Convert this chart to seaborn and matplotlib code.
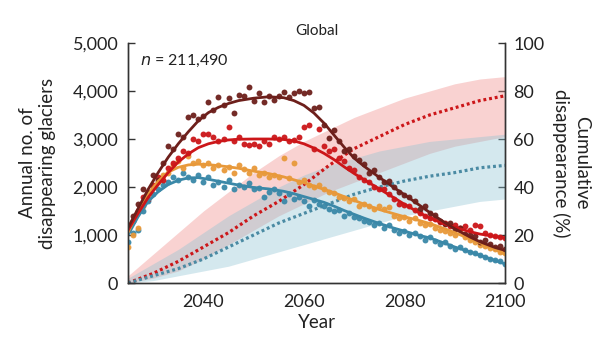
import numpy as np
import pandas as pd
import matplotlib
matplotlib.use("Agg")
import matplotlib.pyplot as plt
import seaborn as sns

years = list(range(2025, 2101))

brown_pts = [1150, 1400, 1650, 1950, 1900, 2250, 2150, 2500, 2850, 2800,
             3100, 3050, 3450, 3500, 3420, 3480, 3780, 3600, 3880, 3700,
             3850, 3550, 3920, 3900, 4080, 3800, 3950, 3780, 3900, 3820,
             3900, 3980, 3870, 3950, 4000, 3960, 3980, 3650, 3670, 3300,
             3020, 3180, 2950, 2750, 2800, 2650, 2560, 2480, 2300, 2350,
             2200, 2100, 2120, 2000, 1900, 1830, 1800, 1700, 1550, 1600,
             1450, 1420, 1300, 1230, 1250, 1130, 1150, 1020, 1000, 980,
             850, 900, 820, 760, 770, 700]
red_pts = [1100, 1300, 1500, 1800, 1750, 2050, 2200, 2150, 2400, 2500,
           2600, 2750, 2700, 3000, 2950, 3100, 3100, 3050, 2950, 3000,
           3250, 2950, 3050, 2900, 2880, 2900, 2850, 2950, 2900, 3050,
           3000, 3050, 2950, 2980, 3050, 3250, 3300, 2800, 3200, 2850,
           2750, 2800, 2600, 2550, 2400, 2350, 2200, 2150, 2100, 2000,
           1950, 1950, 1850, 1750, 1650, 1620, 1600, 1520, 1450, 1400,
           1350, 1330, 1280, 1250, 1180, 1200, 1150, 1180, 1100, 1200,
           1180, 1050, 1000, 980, 960, 940]
orange_pts = [750, 1000, 1150, 1600, 1850, 2000, 2100, 2250, 2300, 2450,
              2550, 2400, 2650, 2500, 2550, 2450, 2500, 2400, 2450, 2350,
              2420, 2300, 2450, 2380, 2300, 2400, 2250, 2300, 2200, 2250,
              2200, 2600, 2180, 2500, 2100, 2150, 2050, 2000, 2050, 1950,
              1900, 1880, 1800, 1780, 1700, 1750, 1600, 1650, 1600, 1550,
              1600, 1550, 1580, 1400, 1350, 1380, 1300, 1350, 1250, 1200,
              1230, 1150, 1100, 1080, 1050, 1000, 1100, 950, 900, 850,
              800, 780, 720, 700, 650, 620]
blue_pts = [850, 1050, 1100, 1500, 1700, 1850, 1950, 2050, 2100, 2200,
            2150, 2300, 2200, 2150, 2250, 2100, 2200, 2050, 2100, 2000,
            2150, 1950, 2050, 2000, 2080, 1950, 1980, 1800, 1900, 1950,
            1880, 1700, 1850, 1750, 1800, 1700, 1600, 1720, 1650, 1600,
            1550, 1500, 1520, 1400, 1450, 1380, 1350, 1300, 1280, 1200,
            1250, 1150, 1200, 1100, 1050, 1080, 1000, 1050, 980, 900,
            950, 880, 820, 850, 780, 700, 750, 680, 650, 620,
            580, 550, 500, 480, 450, 400]

curve_years = [2025, 2027, 2029, 2031, 2033, 2035, 2037, 2039, 2041, 2043,
               2045, 2047, 2050, 2053, 2056, 2058, 2060, 2062, 2064, 2066,
               2068, 2070, 2072, 2075, 2078, 2080, 2083, 2085, 2088, 2090,
               2093, 2095, 2098, 2100]
brown_curve = [1150, 1550, 1950, 2300, 2620, 2900, 3150, 3380, 3550, 3660,
               3740, 3800, 3850, 3880, 3860, 3800, 3700, 3540, 3330, 3080,
               2830, 2600, 2430, 2200, 1980, 1840, 1620, 1470, 1260, 1130,
               960, 860, 740, 680]
red_curve = [1100, 1450, 1780, 2050, 2300, 2520, 2690, 2820, 2900, 2950,
             2980, 2995, 3000, 3000, 2990, 2960, 2900, 2810, 2700, 2570,
             2420, 2280, 2150, 1960, 1770, 1640, 1460, 1360, 1230, 1160,
             1070, 1020, 970, 940]
orange_curve = [1050, 1500, 1850, 2120, 2310, 2410, 2460, 2475, 2465, 2445,
                2420, 2390, 2330, 2280, 2210, 2150, 2090, 2020, 1950, 1880,
                1800, 1720, 1640, 1530, 1440, 1380, 1300, 1240, 1130, 1050,
                920, 840, 700, 600]
blue_curve = [1000, 1380, 1700, 1900, 2050, 2140, 2190, 2195, 2160, 2120,
              2080, 2040, 1990, 1960, 1910, 1860, 1800, 1740, 1680, 1600,
              1510, 1430, 1350, 1240, 1140, 1080, 990, 940, 830, 750,
              650, 580, 470, 400]

cum_years = [2025, 2030, 2035, 2040, 2045, 2050, 2055, 2060, 2065, 2070,
             2075, 2080, 2085, 2090, 2095, 2100]
red_cum = [0, 4, 9, 15, 21, 28, 34, 41, 49, 56, 61, 66, 70, 73, 76, 78]
red_lo = [0, 2, 5, 10, 16, 22, 28, 33, 38, 42, 46, 50, 54, 57, 59, 61]
red_hi = [3, 12, 21, 30, 38, 46, 53, 59, 64, 69, 73, 77, 80, 83, 85, 86]
blue_cum = [0, 3, 6, 10, 15, 20, 25, 29, 33, 37, 40, 42.5, 44.5, 46, 48, 49]
blue_lo = [0, 1, 3, 5, 7, 10, 13, 16, 19, 22, 25, 28, 30, 32, 34, 35]
blue_hi = [2, 8, 14, 21, 28, 34, 40, 45, 49, 52, 55, 57, 59, 60, 61, 62]

C_BROWN = "#6d1f1b"
C_RED = "#cc1619"
C_ORANGE = "#e8993a"
C_BLUE = "#3a88a8"
C_BLUE_DOT = "#4a8aa3"

sns.set_theme(style="white")
plt.rcParams['font.family'] = ['Lato', 'DejaVu Sans']
plt.rcParams['axes.edgecolor'] = '#333333'
plt.rcParams['axes.linewidth'] = 1.0

fig = plt.figure(figsize=(6.0, 3.49), dpi=100)
ax = fig.add_axes([128/600, 1-283/349, (505-128)/600, (283-43)/349])
ax2 = ax.twinx()

# cumulative bands and dotted lines on right axis
ax2.fill_between(cum_years, red_lo, red_hi, color="#f08a88", alpha=0.38, linewidth=0)
ax2.fill_between(cum_years, blue_lo, blue_hi, color="#8fc3d3", alpha=0.38, linewidth=0)
sns.lineplot(x=cum_years, y=red_cum, ax=ax2, color=C_RED, linewidth=2.3,
             linestyle=(0, (0.9, 0.9)))
sns.lineplot(x=cum_years, y=blue_cum, ax=ax2, color=C_BLUE_DOT, linewidth=2.3,
             linestyle=(0, (0.9, 0.9)))

ax.set_zorder(ax2.get_zorder() + 1)
ax.patch.set_visible(False)

series = [(blue_pts, blue_curve, C_BLUE), (orange_pts, orange_curve, C_ORANGE),
          (red_pts, red_curve, C_RED), (brown_pts, brown_curve, C_BROWN)]
for pts, curve, col in series:
    sns.scatterplot(x=years, y=pts, ax=ax, color=col, s=18, linewidth=0, alpha=0.95)
    sns.lineplot(x=curve_years, y=curve, ax=ax, color=col, linewidth=2.0)

ax.set_xlim(2025, 2100)
ax.set_ylim(0, 5000)
ax2.set_ylim(0, 100)
ax.set_xticks([2040, 2060, 2080, 2100])
ax.set_yticks([0, 1000, 2000, 3000, 4000, 5000])
ax.set_yticklabels(["0", "1,000", "2,000", "3,000", "4,000", "5,000"])
ax2.set_yticks([0, 20, 40, 60, 80, 100])

for a in (ax, ax2):
    a.spines['top'].set_visible(False)
    a.tick_params(direction='in', length=5, width=1, color='#333333',
                  labelsize=13, labelcolor='#222222')
ax.tick_params(axis='y', pad=7)
ax.tick_params(axis='x', pad=8)
ax2.tick_params(axis='y', pad=6)

ax.set_xlabel("Year", fontsize=13.5, color='#222222', labelpad=3)
ax.set_ylabel("Annual no. of\ndisappearing glaciers", fontsize=13.5,
              color='#222222', labelpad=12, linespacing=1.2)
ax2.set_ylabel("Cumulative\ndisappearance (%)", fontsize=13.5, color='#222222',
               rotation=270, labelpad=33, linespacing=1.2)
ax.set_title("Global", fontsize=11, color='#222222', pad=6)
ax.text(0.032, 0.925, r"$\it{n}$ = 211,490", transform=ax.transAxes,
        fontsize=11.5, va='center', ha='left', color='#222222')

fig.savefig("out.png", dpi=100)
